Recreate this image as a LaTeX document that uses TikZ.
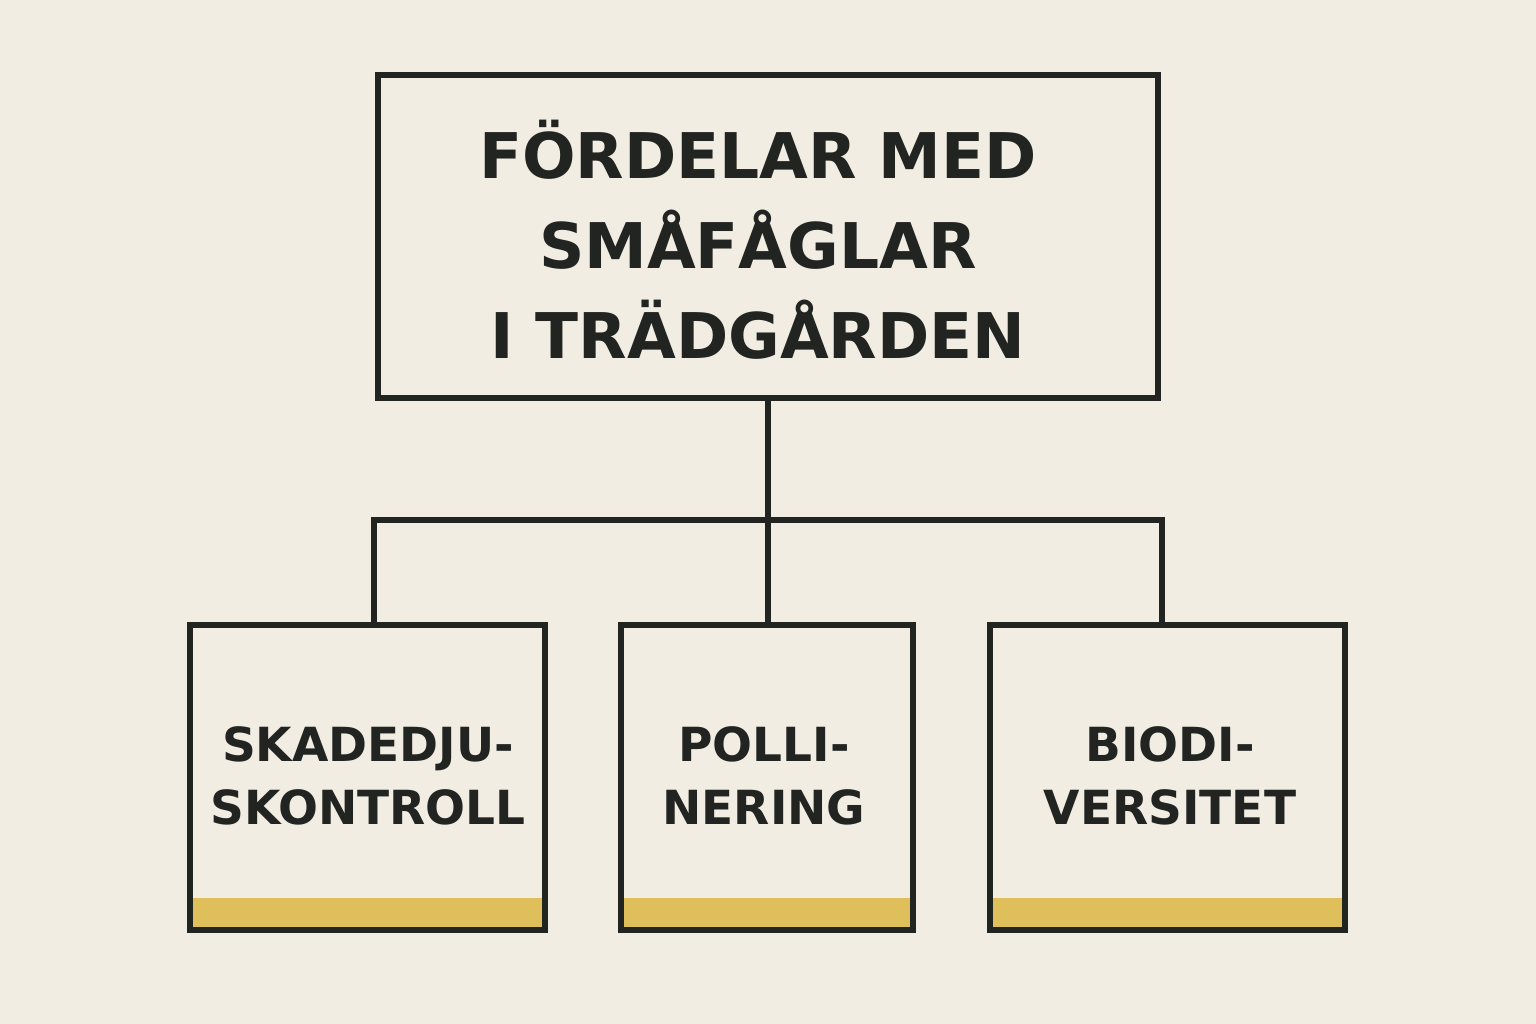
\documentclass[tikz,border=0pt]{standalone}
\usepackage{fontspec}
\setmainfont{DejaVu Sans}
\definecolor{bg}{HTML}{F2EDE3}
\definecolor{ink}{HTML}{222422}
\definecolor{gold}{HTML}{DFBE5C}
\begin{document}
\begin{tikzpicture}[x=1pt,y=-1pt,
  line/.style={ink,line width=6.5pt},
  boxx/.style={draw=ink,line width=6.5pt,fill=bg},
  txt/.style={text=ink,align=center}]
\fill[bg] (0,0) rectangle (1536,1024);
\useasboundingbox (0,0) rectangle (1536,1024);
\coordinate (tv) at (768,398);
\coordinate (j) at (768,520);
\coordinate (jl) at (374,520);
\coordinate (jr) at (1162,520);
\draw[line] (tv) -- (j);
\draw[line,line cap=rect] (jl) -- (jr);
\draw[line] (jl) -- (374,625);
\draw[line] (j) -- (768,625);
\draw[line] (jr) -- (1162,625);
\draw[boxx] (378,75) rectangle (1158,398);
\node[txt,font=\fontsize{63}{90}\selectfont\bfseries] (top) at (758,240) {FÖRDELAR MED\\SMÅFÅGLAR\\I TRÄDGÅRDEN};
\foreach \n/\a/\b/\t/\cx in {l/190/545/{SKADEDJU-\\SKONTROLL}/368, m/621/913/{POLLI-\\NERING}/764, r/990/1345/{BIODI-\\VERSITET}/1170}{
  \fill[gold] (\a,898) rectangle (\b,930);
  \draw[boxx,fill=none] (\a,625) rectangle (\b,930);
  \node[txt,font=\fontsize{47}{63}\selectfont\bfseries] (\n) at (\cx,776) {\t};
}
\end{tikzpicture}
\end{document}
